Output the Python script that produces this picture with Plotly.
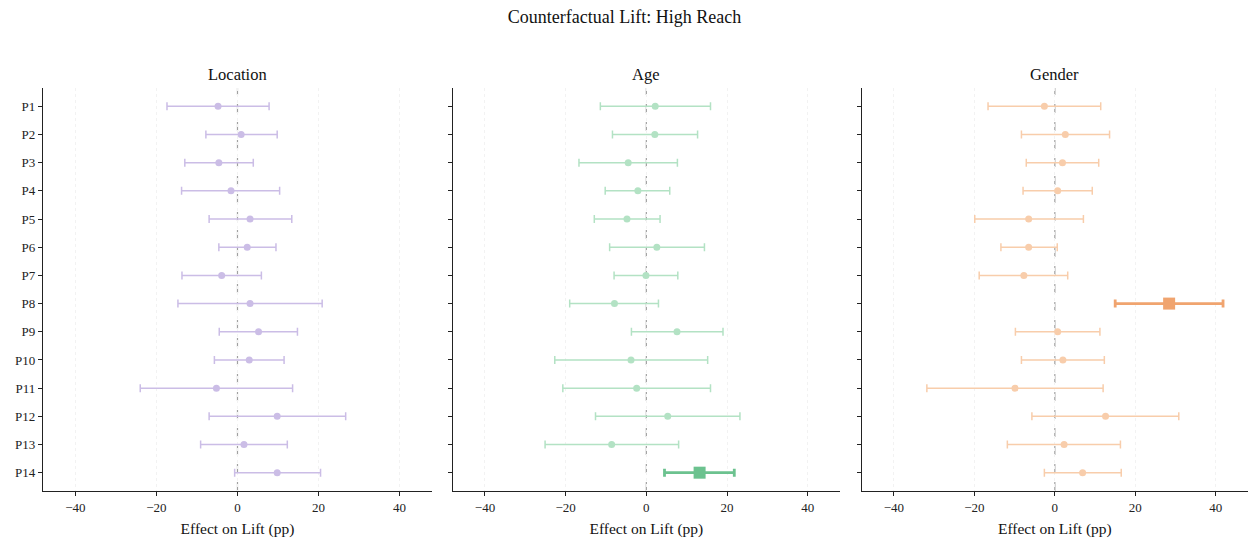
import plotly.graph_objects as go

labels = [f"P{i}" for i in range(1, 15)]

loc_est = [-4.8, 0.9, -4.6, -1.6, 3.1, 2.4, -3.9, 3.1, 5.2, 2.9, -5.2, 9.8, 1.6, 9.8]
loc_lo = [-17.4, -7.8, -13.0, -13.8, -7.0, -4.6, -13.7, -14.7, -4.5, -5.7, -24.0, -7.0, -9.1, -0.7]
loc_hi = [7.8, 9.8, 3.9, 10.4, 13.4, 9.5, 5.9, 20.9, 14.8, 11.5, 13.6, 26.7, 12.3, 20.5]

age_est = [2.2, 2.1, -4.5, -2.1, -4.8, 2.6, -0.1, -7.9, 7.6, -3.8, -2.4, 5.3, -8.6, 13.2]
age_lo = [-11.4, -8.4, -16.7, -10.2, -12.9, -9.1, -8.0, -19.0, -3.7, -22.7, -20.7, -12.6, -25.1, 4.5]
age_hi = [15.9, 12.7, 7.7, 5.8, 3.4, 14.4, 7.8, 3.0, 19.0, 15.2, 15.9, 23.2, 8.0, 21.8]

gen_est = [-2.6, 2.6, 1.9, 0.7, -6.5, -6.5, -7.7, 28.4, 0.7, 2.0, -9.9, 12.6, 2.3, 6.9]
gen_lo = [-16.6, -8.3, -7.1, -7.9, -19.9, -13.4, -18.8, 15.0, -9.8, -8.3, -31.8, -5.7, -11.8, -2.6]
gen_hi = [11.4, 13.6, 10.9, 9.3, 7.1, 0.6, 3.2, 41.8, 11.2, 12.3, 12.0, 30.8, 16.3, 16.5]

highlight = {"Location": None, "Age": "P14", "Gender": "P8"}
panel_names = ["Location", "Age", "Gender"]
panel_data = [(loc_est, loc_lo, loc_hi), (age_est, age_lo, age_hi), (gen_est, gen_lo, gen_hi)]
light_colors = ["#cbbde6", "#b3e2c4", "#f8cdab"]
strong_colors = ["#a98fd8", "#6cc28f", "#f0a46f"]

FONT = "Liberation Serif"
fig = go.Figure()

domains = [[0.0, 0.3228], [0.340, 0.6614], [0.6794, 1.0]]

for k, (name, (est, lo, hi)) in enumerate(zip(panel_names, panel_data)):
    xa = "x" if k == 0 else f"x{k+1}"
    ya = "y" if k == 0 else f"y{k+1}"
    hl = highlight[name]
    n_idx = [i for i, l in enumerate(labels) if l != hl]
    h_idx = [i for i, l in enumerate(labels) if l == hl]
    fig.add_trace(go.Scatter(
        x=[est[i] for i in n_idx], y=[labels[i] for i in n_idx],
        mode="markers", xaxis=xa, yaxis=ya, showlegend=False,
        marker=dict(symbol="circle", size=7, color=light_colors[k]),
        error_x=dict(type="data", symmetric=False,
                     array=[hi[i] - est[i] for i in n_idx],
                     arrayminus=[est[i] - lo[i] for i in n_idx],
                     color=light_colors[k], thickness=1.5, width=4),
    ))
    if h_idx:
        fig.add_trace(go.Scatter(
            x=[est[i] for i in h_idx], y=[labels[i] for i in h_idx],
            mode="markers", xaxis=xa, yaxis=ya, showlegend=False,
            marker=dict(symbol="square", size=12, color=strong_colors[k]),
            error_x=dict(type="data", symmetric=False,
                         array=[hi[i] - est[i] for i in h_idx],
                         arrayminus=[est[i] - lo[i] for i in h_idx],
                         color=strong_colors[k], thickness=2.8, width=4),
        ))
    axkey = "xaxis" if k == 0 else f"xaxis{k+1}"
    aykey = "yaxis" if k == 0 else f"yaxis{k+1}"
    fig.update_layout(**{
        axkey: dict(domain=domains[k], anchor=ya, range=[-48, 48], automargin=False,
                    tickvals=[-40, -20, 0, 20, 40],
                    ticktext=["\u221240", "\u221220", "0", "20", "40"],
                    showgrid=True, gridcolor="#f2f2f2", griddash="dot", gridwidth=1,
                    zeroline=False, showline=True, linecolor="#222", linewidth=1.2,
                    ticks="outside", ticklen=4, tickcolor="#222",
                    title=dict(text="Effect on Lift (pp)", font=dict(size=15.5, family=FONT, color="#111"), standoff=9),
                    tickfont=dict(size=13, family=FONT, color="#222")),
        aykey: dict(anchor=xa, type="category", categoryarray=labels, automargin=False,
                    range=[13.65, -0.65], showgrid=False, zeroline=False,
                    showline=True, linecolor="#222", linewidth=1.2,
                    ticks="outside", ticklen=4, tickcolor="#222",
                    showticklabels=(k == 0),
                    tickfont=dict(size=13, family=FONT, color="#222")),
    })
    fig.add_shape(type="line", xref=xa, yref=f"{ya} domain", x0=0, x1=0, y0=0, y1=1,
                  line=dict(color="#a0a0a0", width=1.2, dash="dash"), layer="below")
    fig.add_annotation(text=name, xref=f"{xa} domain", yref="paper", x=0.5, y=1.0,
                       yshift=14, yanchor="middle", showarrow=False,
                       font=dict(size=16.5, family=FONT, color="#111"))

fig.update_layout(
    width=1249, height=540,
    margin=dict(l=43, r=1, t=88, b=49, autoexpand=False),
    paper_bgcolor="white", plot_bgcolor="white",
    title=dict(text="Counterfactual Lift: High Reach", x=0.5, xanchor="center",
               y=1 - 17 / 540, yanchor="middle",
               font=dict(size=18, family=FONT, color="#111")),
    font=dict(family=FONT),
)

fig.write_html("out.html", config={"displayModeBar": False},
               post_script="document.body.style.margin='0';document.body.style.overflow='hidden';")
